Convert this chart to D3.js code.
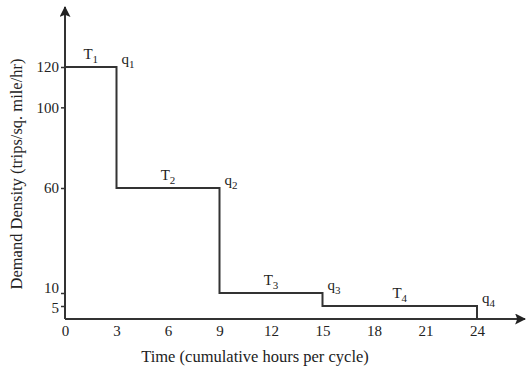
<!DOCTYPE html>
<html><head><meta charset="utf-8">
<script src="https://cdn.jsdelivr.net/npm/d3@7"></script>
<style>
body{margin:0;background:#fff;}
text{font-family:"Liberation Serif","DejaVu Serif",serif;fill:#222;}
</style></head>
<body><svg id="c" width="526" height="368"></svg>
<script>
const times = [0, 3, 9, 15, 24];          // segment boundaries (hours)
const demand = [120, 60, 10, 5];          // demand density per segment
const periodLabels = ["1", "2", "3", "4"]; // T_i / q_i subscripts
const xTicks = [0, 3, 6, 9, 12, 15, 18, 21, 24];
const yTicks = [5, 10, 60, 100, 120];

const svg = d3.select("#c");
const col = "#333";
const x = d3.scaleLinear().domain([0, 24]).range([65, 477]);
// the original drawing's vertical axis is not evenly spaced at the bottom
const y = d3.scaleLinear().domain([0, 5, 10, 60, 120]).range([319, 306, 293, 188, 67]);

// axes lines with arrows
svg.append("defs").append("marker").attr("id","arr").attr("viewBox","0 0 10 10")
  .attr("refX",9).attr("refY",5).attr("markerWidth",16).attr("markerHeight",11)
  .attr("markerUnits","userSpaceOnUse").attr("orient","auto")
  .append("path").attr("d","M0,0 L10,5 L0,10 L2,5 Z").attr("fill","#222");

svg.append("line").attr("x1",x(0)).attr("y1",y(0)).attr("x2",x(0)).attr("y2",7)
  .attr("stroke",col).attr("stroke-width",2).attr("marker-end","url(#arr)");
svg.append("line").attr("x1",x(0)).attr("y1",y(0)).attr("x2",525).attr("y2",y(0))
  .attr("stroke",col).attr("stroke-width",2).attr("marker-end","url(#arr)");

// y axis ticks
const ya = d3.axisLeft(y).tickValues(yTicks).tickSize(4).tickPadding(2).tickFormat(d3.format("d"));
const yg = svg.append("g").attr("transform",`translate(${x(0)},0)`).call(ya);
yg.select(".domain").remove();
yg.selectAll("line").attr("stroke",col).attr("stroke-width",1.5);
yg.selectAll("text").style("font-family","Liberation Serif").style("font-size","15px").attr("fill","#222")
  .attr("dy", d => d === 10 ? "-0.05em" : (d === 5 ? "0.45em" : "0.32em"));

// x axis labels
const xa = d3.axisBottom(x).tickValues(xTicks).tickSize(0).tickPadding(6).tickFormat(d3.format("d"));
const xg = svg.append("g").attr("transform",`translate(0,${y(0)})`).call(xa);
xg.select(".domain").remove();
xg.selectAll("text").style("font-family","Liberation Serif").style("font-size","15px").attr("fill","#222");

// step line
const pts = times.map((t,i)=>[t, i<demand.length?demand[i]:0]);
const line = d3.line().x(d=>x(d[0])).y(d=>y(d[1])).curve(d3.curveStepAfter);
svg.append("path").attr("d",line(pts)).attr("fill","none").attr("stroke",col).attr("stroke-width",2);

// labels T_i and q_i
periodLabels.forEach((s,i)=>{
  const mid = (times[i]+times[i+1])/2;
  const t = svg.append("text").attr("x",x(mid)).attr("y",y(demand[i])-8)
    .attr("text-anchor","middle").style("font-size","15px");
  t.append("tspan").text("T");
  t.append("tspan").attr("dy",4).style("font-size","11px").text(s);
  const q = svg.append("text").attr("x",x(times[i+1])+5).attr("y",y(demand[i])-3)
    .style("font-size","15px");
  q.append("tspan").text("q");
  q.append("tspan").attr("dy",4).style("font-size","11px").text(s);
});

// axis titles
svg.append("text").attr("x",255).attr("y",362).attr("text-anchor","middle")
  .style("font-size","16.5px").text("Time (cumulative hours per cycle)");
svg.append("text").attr("transform","translate(22,174) rotate(-90)").attr("text-anchor","middle")
  .style("font-size","16.5px").text("Demand Density (trips/sq. mile/hr)");
</script></body></html>
